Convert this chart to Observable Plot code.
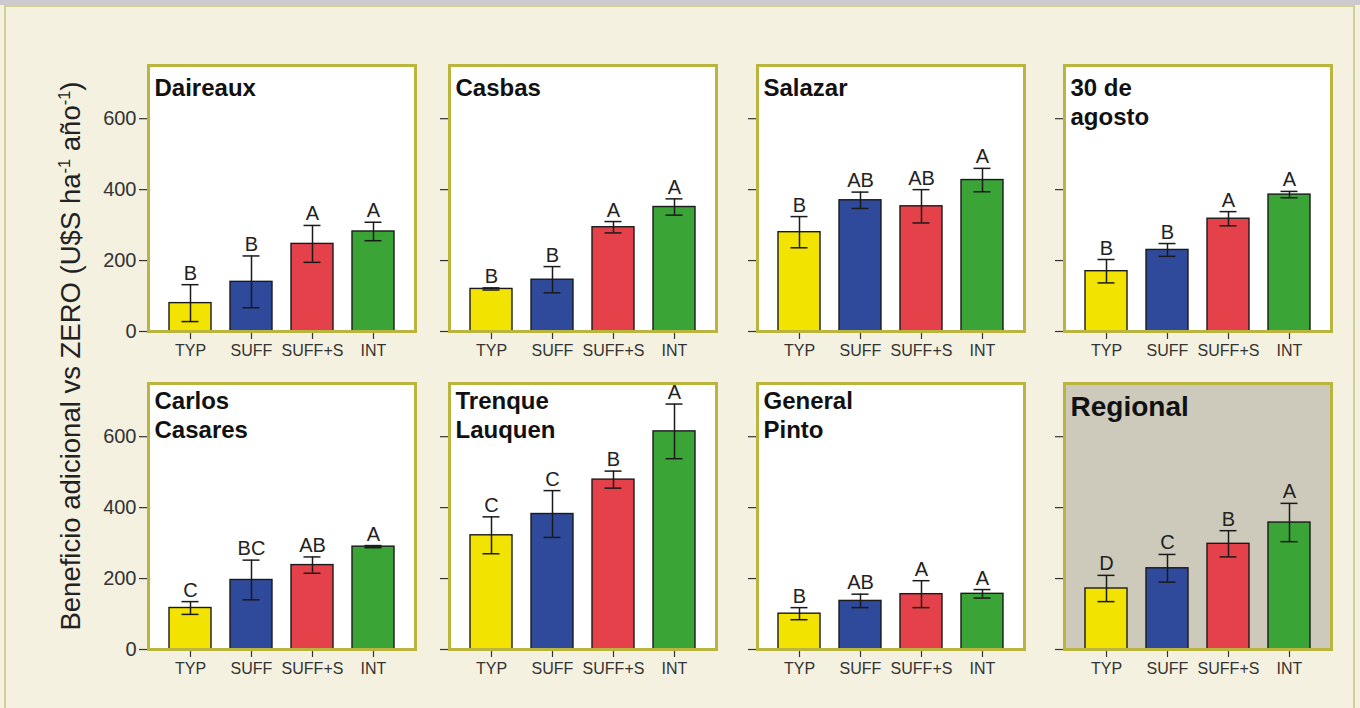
<!DOCTYPE html>
<html>
<head>
<meta charset="utf-8">
<script src="https://cdn.jsdelivr.net/npm/d3@7"></script>
<script src="https://cdn.jsdelivr.net/npm/@observablehq/plot@0.6"></script>
<style>
html, body { margin: 0; padding: 0; background: #f4f1e0; }
#wrap { position: relative; width: 1360px; height: 708px; overflow: hidden; background: #f4f1e0; font-family: "Liberation Sans", Arial, sans-serif; }
#strip { position: absolute; left: 0; top: 0; width: 1360px; height: 5px; background: #cdcacd; }
#box { position: absolute; left: 4px; top: 5px; width: 1347px; height: 740px; border: 2px solid #d3d096; }
#ytitle { position: absolute; left: 71px; top: 356px; transform: translate(-50%, -50%) rotate(-90deg); font-size: 27.5px; color: #222; white-space: nowrap; }
#ytitle sup { font-size: 0.6em; }
#wrap svg { position: absolute; }
</style>
</head>
<body>
<div id="wrap">
  <div id="strip"></div>
  <div id="box"></div>
  <div id="ytitle">Beneficio adicional vs ZERO (U$S ha<sup>-1</sup> año<sup>-1</sup>)</div>
</div>
<script>
const treatments = ["TYP", "SUFF", "SUFF+S", "INT"];
const barColors = ["#f2e400", "#2f4a9b", "#e5414a", "#3aa437"];
const sites = ["Daireaux", "Casbas", "Salazar", "30 de\nagosto", "Carlos\nCasares", "Trenque\nLauquen", "General\nPinto", "Regional"];
const means = [
  [80, 140, 247, 282],
  [120, 146, 294, 351],
  [280, 370, 353, 427],
  [170, 230, 318, 386],
  [117, 196, 238, 290],
  [322, 382, 479, 615],
  [101, 137, 156, 157],
  [172, 229, 298, 358]
];
const errors = [
  [52, 73, 52, 26],
  [3, 37, 16, 23],
  [44, 23, 47, 33],
  [33, 18, 20, 9],
  [18, 56, 23, 3],
  [52, 66, 24, 77],
  [17, 19, 38, 12],
  [37, 39, 37, 54]
];
const letters = [
  ["B", "B", "A", "A"],
  ["B", "B", "A", "A"],
  ["B", "AB", "AB", "A"],
  ["B", "B", "A", "A"],
  ["C", "BC", "AB", "A"],
  ["C", "C", "B", "A"],
  ["B", "AB", "A", "A"],
  ["D", "C", "B", "A"]
];
const yTicks = [0, 200, 400, 600];

// layout
const colLeft = [148, 449, 757, 1064];
const rowTop = [65, 383];
const panelW = 267, panelH = 266;
const mL = 50, mR = 12, mT = 12, mB = 42;
const FONT = "Liberation Sans, Arial, sans-serif";

const wrap = document.getElementById("wrap");

sites.forEach((site, i) => {
  const c = i % 4, r = Math.floor(i / 4);
  const regional = site === "Regional";
  const data = treatments.map((t, j) => ({t, m: means[i][j], e: errors[i][j], l: letters[i][j]}));
  const plot = Plot.plot({
    width: panelW + mL + mR,
    height: panelH + mT + mB,
    marginLeft: mL, marginRight: mR, marginTop: mT, marginBottom: mB,
    style: {background: "transparent", overflow: "visible", fontFamily: FONT, fontSize: "15px"},
    x: {domain: treatments, paddingInner: 0.31, paddingOuter: 0.33, axis: null},
    y: {domain: [0, 750], axis: null},
    color: {domain: treatments, range: barColors},
    marks: [
      Plot.frame({fill: regional ? "#cdcabb" : "#ffffff", stroke: "none"}),
      Plot.barY(data, {x: "t", y: "m", fill: "t", stroke: "#1a1a1a", strokeWidth: 1.4}),
      Plot.ruleX(data, {x: "t", y1: d => d.m - d.e, y2: d => d.m + d.e, stroke: "#1a1a1a", strokeWidth: 1.5}),
      Plot.tickY(data, {x: "t", y: d => d.m + d.e, stroke: "#1a1a1a", strokeWidth: 1.5, insetLeft: 12.5, insetRight: 12.5}),
      Plot.tickY(data, {x: "t", y: d => d.m - d.e, stroke: "#1a1a1a", strokeWidth: 1.5, insetLeft: 12.5, insetRight: 12.5}),
      Plot.text(data, {x: "t", y: d => d.m + d.e, text: "l", dy: -5, lineAnchor: "bottom", fontSize: 20, fill: "#222", fontFamily: FONT}),
      Plot.text([site], {
        text: d => d, frameAnchor: "top-left", textAnchor: "start", lineAnchor: "top",
        dx: 6, dy: regional ? 9 : (r === 0 ? 10 : 5),
        fontSize: regional ? 28 : 24, fontWeight: "bold", lineHeight: 1.2, fill: "#111", fontFamily: FONT
      }),
      Plot.axisY({ticks: yTicks, tickSize: 9, tickPadding: 3, fontSize: 20, label: null,
        stroke: "#333", strokeWidth: 1.2, fill: c === 0 ? "#333" : "none", fontFamily: FONT}),
      Plot.axisX({tickSize: 8, tickPadding: 5, fontSize: 16, label: null,
        stroke: "#333", strokeWidth: 1.2, fill: "#333", fontFamily: FONT}),
      Plot.frame({stroke: "#bab53f", strokeWidth: 3, fill: "none"})
    ]
  });
  plot.style.left = (colLeft[c] - mL) + "px";
  plot.style.top = (rowTop[r] - mT) + "px";
  wrap.appendChild(plot);
});
</script>
</body>
</html>
